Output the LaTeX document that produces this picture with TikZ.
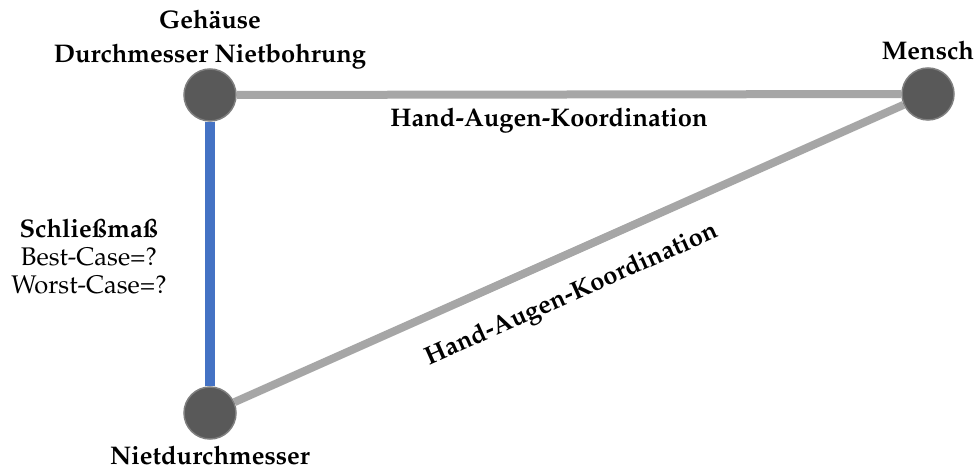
\documentclass[tikz,border=0pt]{standalone}
\usepackage[T1]{fontenc}
\usepackage{mathpazo}
\usetikzlibrary{backgrounds}

\definecolor{knotengrau}{HTML}{595959}
\definecolor{randgrau}{HTML}{7F7F7F}
\definecolor{kantengrau}{HTML}{A6A6A6}
\definecolor{toleranzblau}{HTML}{4472C4}

\begin{document}
\begin{tikzpicture}[x=1pt, y=-1pt,
    groesse/.style ={circle, draw=randgrau, line width=1.5pt, fill=knotengrau,
                     minimum size=52pt, inner sep=0pt},
    titel/.style   ={font=\bfseries\fontsize{25.5}{35}\selectfont, text=black, align=center, inner sep=0pt},
    info/.style    ={font=\fontsize{25.5}{28}\selectfont, text=black, align=center, inner sep=0pt},
    kopplung/.style={line width=8pt, kantengrau},
    kette/.style   ={line width=10pt, toleranzblau}]
   \useasboundingbox (0,0) rectangle (975,470);

   \node[groesse] (G) [label={[titel, label distance=-1pt]90:Geh\"ause\\[-1pt]Durchmesser Nietbohrung}] at (210,95)  {};
   \node[groesse] (M) [label={[titel, label distance=7pt]90:Mensch}] at (928,94)  {};
   \node[groesse] (N) [label={[titel, label distance=6pt]270:Nietdurchmesser}] at (210,413)  {};

   \begin{scope}[on background layer]
   \draw[kopplung] (G) to node[titel, pos=0.47, below=10pt] {Hand-Augen-Koordination} (M);
   \draw[kopplung] (N) to node[titel, sloped, pos=0.48, below=23pt] {Hand-Augen-Koordination} (M);
   \draw[kette] (G) to node[info, left=121pt, anchor=center, yshift=-3pt] {\textbf{Schlie\ss ma\ss}\\Best-Case=?\\Worst-Case=?} (N);
   \end{scope}
 \end{tikzpicture}
\end{document}
